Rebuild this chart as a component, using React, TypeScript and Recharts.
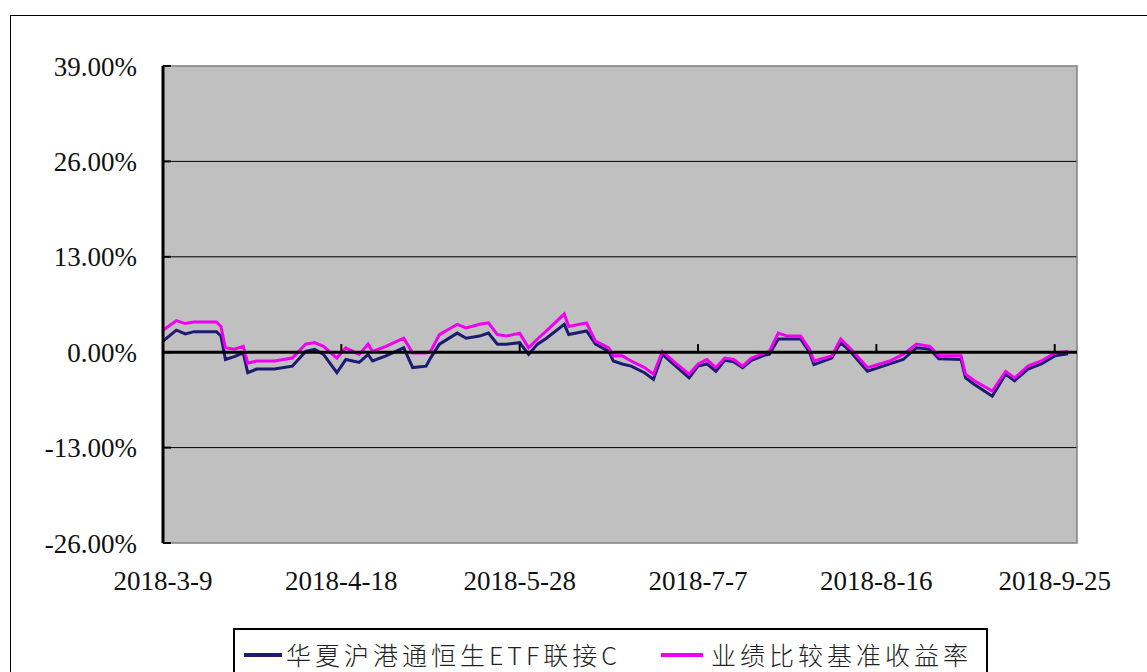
import React from 'react';
import {
  LineChart,
  Line,
  XAxis,
  YAxis,
  CartesianGrid,
  ReferenceLine,
  ReferenceArea,
  Legend
} from 'recharts';

// dates of the sampled points (Excel date axis, so x is calendar days)
const dates = [
  '2018-3-9', '2018-3-12', '2018-3-14', '2018-3-16', '2018-3-21', '2018-3-22', '2018-3-23', '2018-3-25',
  '2018-3-27', '2018-3-28', '2018-3-30', '2018-4-3', '2018-4-7', '2018-4-10', '2018-4-12', '2018-4-14',
  '2018-4-17', '2018-4-19', '2018-4-22', '2018-4-24', '2018-4-25', '2018-4-28', '2018-5-2', '2018-5-4',
  '2018-5-7', '2018-5-8', '2018-5-10', '2018-5-14', '2018-5-16', '2018-5-19', '2018-5-21', '2018-5-23',
  '2018-5-25', '2018-5-28', '2018-5-30', '2018-6-1', '2018-6-3', '2018-6-7', '2018-6-8', '2018-6-12',
  '2018-6-14', '2018-6-17', '2018-6-18', '2018-6-20', '2018-6-22', '2018-6-25', '2018-6-27', '2018-6-29',
  '2018-7-2', '2018-7-5', '2018-7-7', '2018-7-9', '2018-7-11', '2018-7-13', '2018-7-15', '2018-7-17',
  '2018-7-19', '2018-7-22', '2018-7-23', '2018-7-25', '2018-7-27', '2018-7-30', '2018-8-1', '2018-8-2',
  '2018-8-6', '2018-8-8', '2018-8-10', '2018-8-14', '2018-8-19', '2018-8-22', '2018-8-25', '2018-8-28',
  '2018-8-30', '2018-9-4', '2018-9-5', '2018-9-7', '2018-9-11', '2018-9-14', '2018-9-16', '2018-9-19',
  '2018-9-22', '2018-9-25', '2018-9-28'
];

// 华夏沪港通恒生ETF联接C (%)
const fundReturn = [
  1.5, 3.0, 2.5, 2.8, 2.8, 2.2, -1.0, -0.6,
  -0.1, -2.8, -2.3, -2.3, -1.9, 0.1, 0.4, -0.3,
  -2.8, -1.0, -1.4, -0.3, -1.2, -0.5, 0.6, -2.1,
  -1.9, -0.8, 1.1, 2.6, 1.9, 2.2, 2.6, 1.1,
  1.1, 1.3, -0.3, 1.1, 1.9, 3.8, 2.4, 2.9,
  1.1, 0.1, -1.2, -1.6, -1.9, -2.8, -3.7, -0.3,
  -1.9, -3.5, -1.9, -1.6, -2.6, -1.1, -1.3, -2.1,
  -1.1, -0.4, -0.3, 1.8, 1.8, 1.8, 0.0, -1.7,
  -0.8, 1.3, 0.2, -2.6, -1.6, -1.0, 0.6, 0.4,
  -0.9, -1.0, -3.5, -4.4, -6.0, -3.0, -3.9, -2.3,
  -1.6, -0.5, -0.2
];

// 业绩比较基准收益率 (%)
const benchmarkReturn = [
  3.0, 4.3, 3.9, 4.1, 4.1, 3.5, 0.6, 0.4,
  0.8, -1.5, -1.2, -1.2, -0.8, 1.1, 1.3, 0.8,
  -0.8, 0.6, -0.3, 1.1, 0.1, 0.8, 1.9, -0.1,
  -0.1, 0.1, 2.4, 3.8, 3.3, 3.8, 4.0, 2.4,
  2.2, 2.6, 0.6, 1.8, 2.9, 5.2, 3.5, 4.0,
  1.5, 0.6, -0.5, -0.5, -1.2, -2.1, -3.0, 0.1,
  -1.5, -3.0, -1.6, -1.0, -2.1, -0.8, -1.0, -1.9,
  -0.8, -0.1, 0.1, 2.6, 2.2, 2.2, 0.4, -1.2,
  -0.5, 1.8, 0.6, -2.1, -1.2, -0.3, 1.1, 0.8,
  -0.5, -0.5, -3.0, -3.9, -5.3, -2.6, -3.5, -1.9,
  -1.2, -0.1, 0.1
];

const xTickLabels = ['2018-3-9', '2018-4-18', '2018-5-28', '2018-7-7', '2018-8-16', '2018-9-25'];
const xAxisEnd = '2018-9-30';
const yTicks = [-26, -13, 0, 13, 26, 39];

const FUND_NAME = '华夏沪港通恒生ETF联接C';
const BENCH_NAME = '业绩比较基准收益率';
const NAVY = '#1b1b72';
const MAGENTA = '#f000f0';

const toDay = (s: string) => {
  const [y, m, d] = s.split('-').map(Number);
  const [y0, m0, d0] = dates[0].split('-').map(Number);
  return (Date.UTC(y, m - 1, d) - Date.UTC(y0, m0 - 1, d0)) / 86400000;
};

const data = dates.map((d, i) => ({
  day: toDay(d),
  fund: fundReturn[i],
  bench: benchmarkReturn[i],
}));

const xTicks = xTickLabels.map(toDay);
const xEnd = toDay(xAxisEnd);

const axisFont = '"Liberation Serif", "Times New Roman", serif';

const LegendBox = () => (
  <div
    style={{
      border: '2px solid #000',
      background: '#fff',
      height: 60,
      boxSizing: 'border-box',
      display: 'flex',
      alignItems: 'flex-start',
      paddingTop: 6,
      fontFamily: '"Noto Sans CJK SC", sans-serif',
      fontWeight: 300,
      fontSize: 25,
      letterSpacing: 4,
      color: '#222',
      whiteSpace: 'nowrap',
    }}
  >
    <span style={{ display: 'inline-block', width: 38, height: 4, background: NAVY, marginLeft: 9, marginTop: 17 }} />
    <span style={{ marginLeft: 4 }}>{FUND_NAME}</span>
    <span style={{ display: 'inline-block', width: 42, height: 4, background: MAGENTA, marginLeft: 40, marginTop: 17 }} />
    <span style={{ marginLeft: 8 }}>{BENCH_NAME}</span>
  </div>
);

export default function App() {
  return (
    <div style={{ position: 'absolute', left: 0, top: 0, width: 1147, height: 672, overflow: 'hidden', background: '#fff' }}>
      <div
        style={{
          position: 'absolute',
          left: 10,
          top: 15,
          width: 1160,
          height: 720,
          border: '1.5px solid #000',
        }}
      />
      <div style={{ position: 'absolute', left: 0, top: 0 }}>
        <LineChart
          width={1147}
          height={672}
          data={data}
          margin={{ top: 66, right: 70, bottom: 69, left: 0 }}
        >
          <CartesianGrid
            horizontal
            vertical={false}
            horizontalValues={[26, 13, -13]}
            stroke="#000"
            strokeWidth={1}
            fill="#c0c0c0"
            fillOpacity={1}
          />
          <ReferenceArea
            x1={0}
            x2={xEnd}
            y1={-26}
            y2={39}
            fill="none"
            stroke="#808080"
            strokeWidth={1.5}
          />
          <XAxis
            type="number"
            dataKey="day"
            domain={[0, xEnd]}
            ticks={xTicks}
            tickFormatter={(v: number) => xTickLabels[xTicks.indexOf(v)] ?? ''}
            axisLine={false}
            tickLine={false}
            tickSize={0}
            tickMargin={28}
            height={60}
            interval={0}
            tick={{ fill: '#111', fontSize: 27, fontFamily: axisFont }}
          />
          <YAxis
            type="number"
            domain={[-26, 39]}
            ticks={yTicks}
            interval={0}
            width={163}
            tickFormatter={(v: number) => `${v.toFixed(2)}%`}
            axisLine={{ stroke: '#000', strokeWidth: 3 }}
            tickLine={{ stroke: '#000', strokeWidth: 2 }}
            tickSize={-8}
            tickMargin={34}
            tick={{ fill: '#111', fontSize: 27, fontFamily: axisFont }}
          />
          <Line
            type="linear"
            dataKey="fund"
            name={FUND_NAME}
            stroke={NAVY}
            strokeWidth={3}
            dot={false}
            isAnimationActive={false}
          />
          <Line
            type="linear"
            dataKey="bench"
            name={BENCH_NAME}
            stroke={MAGENTA}
            strokeWidth={3}
            dot={false}
            isAnimationActive={false}
          />
          <ReferenceLine y={0} stroke="#000" strokeWidth={3} />
          {xTicks.slice(1).map((t) => (
            <ReferenceLine
              key={t}
              segment={[{ x: t, y: 0 }, { x: t, y: 1.1 }]}
              stroke="#000"
              strokeWidth={2}
            />
          ))}
          <Legend
            layout="horizontal"
            verticalAlign="middle"
            content={LegendBox}
            wrapperStyle={{ left: 233, top: 628, width: 755 }}
          />
        </LineChart>
      </div>
    </div>
  );
}
